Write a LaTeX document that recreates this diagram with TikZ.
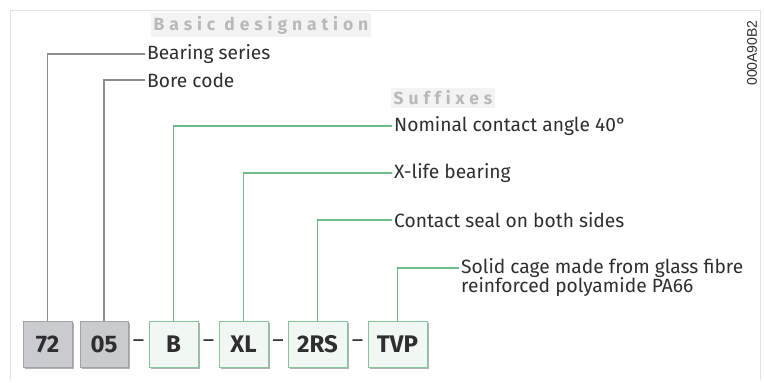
\documentclass[tikz,border=0pt]{standalone}
\usepackage{fontspec}
\setmainfont{Fira Sans}
\newfontfamily\headfont[LetterSpace=28, Ligatures=NoCommon]{Fira Sans}
\newfontfamily\codefont{Liberation Sans}
\usetikzlibrary{positioning,shadows,calc}
\definecolor{framegray}{HTML}{E4E4E4}
\definecolor{txtdark}{HTML}{2E2E2E}
\definecolor{headgray}{HTML}{B9B9B9}
\definecolor{headbg}{HTML}{F3F3F3}
\definecolor{basicfill}{HTML}{C9CBCE}
\definecolor{basicedge}{HTML}{9FA2A6}
\definecolor{basicln}{HTML}{8E8E8E}
\definecolor{sufffill}{HTML}{F1F8F3}
\definecolor{suffedge}{HTML}{86C59C}
\definecolor{suffln}{HTML}{6DBA8A}

\begin{document}
\begin{tikzpicture}[x=1pt, y=-1pt,
  lbl/.style={anchor=west, inner xsep=2pt, inner ysep=1pt, font=\fontsize{19.2}{21}\selectfont, text=txtdark},
  head/.style={fill=headbg, inner xsep=3pt, inner ysep=2.5pt, font=\headfont\bfseries\fontsize{17.5}{19}\selectfont, text=headgray},
  codebox/.style={draw, line width=0.8pt, minimum height=46pt, inner sep=0pt, font=\bfseries\fontsize{24}{26}\selectfont, text=txtdark,
    drop shadow={shadow xshift=1.5pt, shadow yshift=-1.5pt, fill=black, opacity=0.3}},
  basic/.style={codebox, fill=basicfill, draw=basicedge},
  suffix/.style={codebox, fill=sufffill, draw=suffedge},
  graylead/.style={draw=basicln, line width=1.3pt},
  greenlead/.style={draw=suffln, line width=1.3pt},
  sep/.style={font=\fontsize{22}{24}\selectfont, text=txtdark, inner sep=0pt},
]
\useasboundingbox (0,0) rectangle (764,383);
% frame
\draw[framegray, line width=0.8pt] (10,380) -- (10,10) -- (760,10) -- (760,380);

% headings
\node[head] (basichead) at (261,25) {Basic designation};
\node[head] (suffhead) at (443,98) {Suffixes};

% designation boxes
\node[basic, minimum width=49pt] (b72) at (47.5,344) {72};
\node[basic, minimum width=48pt] (b05) at (104,344) {05};
\node[suffix, minimum width=49pt] (bB) at (173.5,344) {B};
\node[suffix, minimum width=49pt] (bXL) at (243.5,344) {XL};
\node[suffix, minimum width=59pt] (bRS) at (317.5,344) {2RS};
\node[suffix, minimum width=59pt] (bTVP) at (397.5,344) {TVP};
\node[sep] at ($(b05.east)!0.5!(bB.west)$) {--};
\node[sep] at ($(bB.east)!0.5!(bXL.west)$) {--};
\node[sep] at ($(bXL.east)!0.5!(bRS.west)$) {--};
\node[sep] at ($(bRS.east)!0.5!(bTVP.west)$) {--};

% labels
\node[lbl] (series) at (145,54) {Bearing series};
\node[lbl] (bore) at (145,80) {Bore code};
\node[lbl] (angle) at (392,126) {Nominal contact angle 40°};
\node[lbl] (xlife) at (392,173) {X-life bearing};
\node[lbl] (seal) at (392,220) {Contact seal on both sides};
\node[lbl] (cage) at (459,268) {Solid cage made from glass fibre};
\node[lbl, anchor=base west] (cage2) at ([yshift=-19pt]cage.base west) {reinforced polyamide PA66};

% leaders
\draw[graylead] (b72.north) |- (series.west);
\draw[graylead] (b05.north) |- (bore.west);
\draw[greenlead] (bB.north) |- (angle.west);
\draw[greenlead] (bXL.north) |- (xlife.west);
\draw[greenlead] (bRS.north) |- (seal.west);
\draw[greenlead] (bTVP.north) |- (cage.west);

% drawing number
\node[rotate=90, font=\codefont\fontsize{14}{16}\selectfont, text=txtdark] (drawno) at (752,53) {000A90B2};
\end{tikzpicture}
\end{document}
